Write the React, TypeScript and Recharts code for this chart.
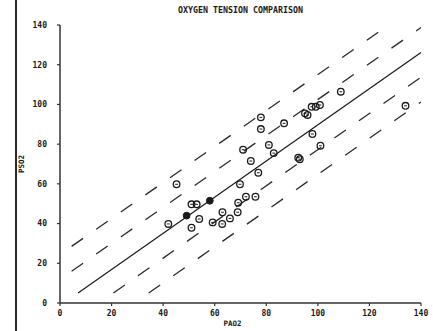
import React from 'react';
import { ComposedChart, XAxis, YAxis, Scatter, Line, Label } from 'recharts';

// Open-circle observations (PAO2, PSO2)
const openX = [42.0, 45.2, 51.0, 53.0, 54.0, 51.0, 59.2, 62.9, 63.0, 65.9, 68.9, 69.1, 72.1, 75.8, 69.8, 76.9, 74.0, 71.0, 81.0, 82.9, 77.9, 77.9, 86.9, 92.4, 93.0, 95.0, 96.0, 97.6, 99.2, 100.8, 97.9, 101.0, 108.9, 134.0];
const openY = [39.8, 59.8, 49.7, 49.7, 42.3, 37.9, 40.6, 39.8, 45.7, 42.6, 45.7, 50.5, 53.5, 53.5, 59.8, 65.6, 71.5, 77.2, 79.6, 75.5, 87.6, 93.5, 90.5, 73.2, 72.4, 95.5, 94.7, 98.8, 98.8, 99.7, 85.1, 79.2, 106.4, 99.3];

// Filled-circle observations
const filledX = [49.1, 58.1];
const filledY = [44.0, 51.5];

// Regression line and bands (endpoints)
const fitLine = [{ x: 7, y: 5 }, { x: 140, y: 126.2 }];
const upperInner = [{ x: 4.5, y: 16 }, { x: 140, y: 138.7 }];
const upperOuter = [{ x: 4.5, y: 28.5 }, { x: 127.5, y: 140 }];
const lowerInner = [{ x: 20.7, y: 5 }, { x: 140, y: 113.7 }];
const lowerOuter = [{ x: 34.4, y: 5 }, { x: 140, y: 101.2 }];

const xTicks = [0, 20, 40, 60, 80, 100, 120, 140];
const yTicks = [0, 20, 40, 60, 80, 100, 120, 140];

const openData = openX.map((x, i) => ({ x, y: openY[i] }));
const filledData = filledX.map((x, i) => ({ x, y: filledY[i] }));

const FONT = '"DejaVu Sans Mono", monospace';
const INK = '#1a1a1a';

const OpenShape = (props: any) => {
  const { cx, cy } = props;
  if (cx == null || cy == null) return null;
  return (
    <g>
      <circle cx={cx} cy={cy} r={3.3} fill="none" stroke={INK} strokeWidth={1.3} />
      <line x1={cx - 1.4} y1={cy} x2={cx + 1.4} y2={cy} stroke={INK} strokeWidth={1} />
    </g>
  );
};

const FilledShape = (props: any) => {
  const { cx, cy } = props;
  if (cx == null || cy == null) return null;
  return <circle cx={cx} cy={cy} r={3.4} fill={INK} stroke={INK} strokeWidth={1} />;
};

const tickStyle = { fontFamily: FONT, fontSize: 8, fontWeight: 700, fill: INK };

export default function App() {
  return (
    <div style={{ position: 'absolute', left: 0, top: 0, width: 433, height: 331, background: '#fff', overflow: 'hidden' }}>
      <div style={{ position: 'absolute', left: 15, top: 0, width: 2, height: 331, background: '#2a2a2a' }} />
      <div
        style={{
          position: 'absolute',
          left: 140,
          width: 201,
          top: 5,
          textAlign: 'center',
          fontFamily: FONT,
          fontWeight: 700,
          fontSize: 8.3,
          color: INK,
          lineHeight: '10px',
        }}
      >
        OXYGEN TENSION COMPARISON
      </div>
      <ComposedChart width={433} height={331} margin={{ top: 25, right: 12, bottom: 4, left: 0 }}>
        <XAxis
          type="number"
          dataKey="x"
          domain={[0, 140]}
          ticks={xTicks}
          interval={0}
          allowDataOverflow
          height={24}
          tickSize={3}
          tickMargin={4}
          tick={tickStyle}
          axisLine={{ stroke: '#333', strokeWidth: 1.5 }}
          tickLine={{ stroke: '#333', strokeWidth: 1.2 }}
        >
          <Label value="PAO2" position="insideBottom" offset={1} dx={-8} style={{ fontFamily: FONT, fontSize: 7.5, fontWeight: 700, fill: INK }} />
        </XAxis>
        <YAxis
          type="number"
          dataKey="y"
          domain={[0, 140]}
          ticks={yTicks}
          interval={0}
          allowDataOverflow
          width={60}
          tickSize={3}
          tickMargin={10}
          tick={tickStyle}
          axisLine={{ stroke: '#333', strokeWidth: 1.5 }}
          tickLine={{ stroke: '#333', strokeWidth: 1.2 }}
        >
          <Label value="PSO2" angle={-90} position="insideLeft" offset={21} style={{ fontFamily: FONT, fontSize: 7.5, fontWeight: 700, fill: INK, textAnchor: 'middle' }} />
        </YAxis>
        <Line data={upperOuter} dataKey="y" stroke="#2a2a2a" strokeWidth={1.3} strokeDasharray="14 16" dot={false} activeDot={false} isAnimationActive={false} />
        <Line data={upperInner} dataKey="y" stroke="#2a2a2a" strokeWidth={1.3} strokeDasharray="14 16" dot={false} activeDot={false} isAnimationActive={false} />
        <Line data={lowerInner} dataKey="y" stroke="#2a2a2a" strokeWidth={1.3} strokeDasharray="14 16" dot={false} activeDot={false} isAnimationActive={false} />
        <Line data={lowerOuter} dataKey="y" stroke="#2a2a2a" strokeWidth={1.3} strokeDasharray="14 16" dot={false} activeDot={false} isAnimationActive={false} />
        <Line data={fitLine} dataKey="y" stroke="#1a1a1a" strokeWidth={1.2} dot={false} activeDot={false} isAnimationActive={false} />
        <Scatter data={openData} dataKey="y" shape={<OpenShape />} isAnimationActive={false} />
        <Scatter data={filledData} dataKey="y" shape={<FilledShape />} isAnimationActive={false} />
      </ComposedChart>
    </div>
  );
}
